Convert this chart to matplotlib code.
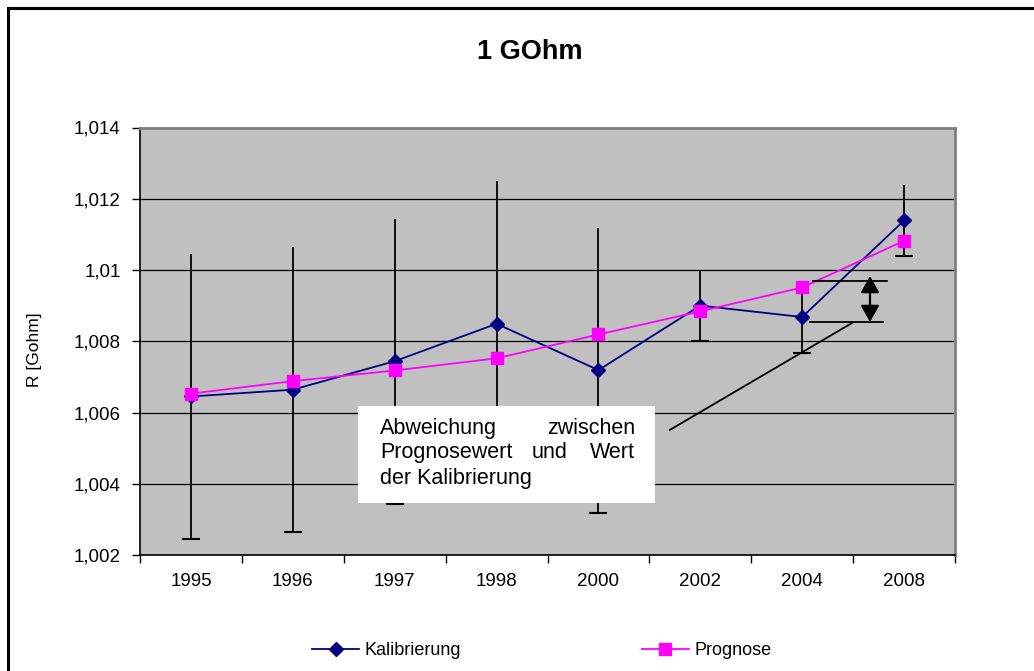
import matplotlib
matplotlib.use("Agg")
import matplotlib.pyplot as plt
from matplotlib.patches import Rectangle
from matplotlib.ticker import FuncFormatter

plt.rcParams['font.family'] = ['Liberation Sans', 'DejaVu Sans']

# data
years = ["1995", "1996", "1997", "1998", "2000", "2002", "2004", "2008"]
kalibrierung = [1.00645, 1.00664, 1.00744, 1.00849, 1.00719, 1.00900, 1.00868, 1.01139]
kal_err = [0.004, 0.004, 0.004, 0.004, 0.004, 0.001, 0.001, 0.001]
prognose = [1.00653, 1.00688, 1.00718, 1.00752, 1.00819, 1.00884, 1.00951, 1.01082]

x = list(range(len(years)))

fig = plt.figure(figsize=(10.34, 6.71), dpi=100)
ax = fig.add_axes([140/1034, 1-555/671, 815/1034, 427.5/671])
ax.set_facecolor('#C0C0C0')

ax.set_ylim(1.002, 1.014)
ax.set_yticks([1.002, 1.004, 1.006, 1.008, 1.010, 1.012, 1.014])
ax.yaxis.set_major_formatter(FuncFormatter(lambda v, p: f"{v:.3f}".rstrip('0').replace('.', ',')))
ax.grid(axis='y', color='black', lw=0.9)
ax.set_axisbelow(True)

# category axis, ticks between categories like Excel
ax.set_xlim(-0.5, len(years) - 0.5)
ax.set_xticks([i - 0.5 for i in range(len(years) + 1)])
ax.set_xticklabels([])
ax.set_xticks(x, minor=True)
ax.set_xticklabels(years, minor=True)
ax.tick_params(axis='x', which='minor', length=0, pad=13, labelsize=13.5)
ax.tick_params(axis='x', which='major', length=6, width=1, direction='out')
ax.tick_params(axis='y', length=6, width=1, direction='out', pad=8, labelsize=13.5)

for s in ['top', 'right']:
    ax.spines[s].set_color('#808080')
    ax.spines[s].set_linewidth(2)
for s in ['left', 'bottom']:
    ax.spines[s].set_color('black')
    ax.spines[s].set_linewidth(1.2)

# error bars (caps only at the lower end)
lo = [k - e for k, e in zip(kalibrierung, kal_err)]
hi = [k + e for k, e in zip(kalibrierung, kal_err)]
ax.vlines(x, lo, hi, color='black', lw=1.3, zorder=2)
ax.plot(x, lo, '_', color='black', ms=13, mew=1.5, zorder=2)

ax.plot(x, kalibrierung, color='#000080', lw=1.3, marker='D', ms=7.5,
        label='Kalibrierung', zorder=3)
ax.plot(x, prognose, color='#FF00FF', lw=1.3, marker='s', ms=8.5,
        label='Prognose', zorder=4)

ax.set_ylabel('R [Gohm]', fontsize=12.5)
ax.yaxis.set_label_coords(-0.128 + 0.008, 0.48)
fig.text(0.5126, 0.9225, '1 GOhm', ha='center', va='center', fontsize=19.5, fontweight='bold')

# annotation box
ax.add_patch(Rectangle((0.2675, 0.1216), 0.3645, 0.2269, transform=ax.transAxes,
                       facecolor='white', edgecolor='none', zorder=6))
tk = dict(transform=ax.transAxes, fontsize=15.5, va='center', zorder=7)
ax.text(0.2945, 0.297, 'Abweichung', ha='left', **tk)
ax.text(0.6074, 0.297, 'zwischen', ha='right', **tk)
ax.text(0.2945, 0.2386, 'Prognosewert', ha='left', **tk)
ax.text(0.503, 0.2386, 'und', ha='center', **tk)
ax.text(0.6074, 0.2386, 'Wert', ha='right', **tk)
ax.text(0.2945, 0.180, 'der Kalibrierung', ha='left', **tk)

ax.plot([0.650, 0.8736], [0.2924, 0.5427], color='black', lw=1.3, transform=ax.transAxes, zorder=5)
ax.plot([0.8258, 0.9166], [0.641, 0.641], color='black', lw=1.3, transform=ax.transAxes, zorder=5)
ax.plot([0.822, 0.9117], [0.545, 0.545], color='black', lw=1.3, transform=ax.transAxes, zorder=5)
ax.annotate('', xy=(0.8957, 0.6526), xytext=(0.8957, 0.545),
            xycoords='axes fraction', textcoords='axes fraction',
            arrowprops=dict(arrowstyle='<|-|>,head_width=0.28,head_length=0.5',
                            mutation_scale=20, color='black', lw=1.6,
                            shrinkA=0, shrinkB=0), zorder=5)

fig.legend(loc='center', bbox_to_anchor=(0.524, 0.03), ncol=2, frameon=False,
           fontsize=13, handlelength=2.6, handletextpad=0.3, columnspacing=10)

# outer chart border
fig.add_artist(Rectangle((8/1034, -0.1), 1.2, 1.1 - 7.5/671, transform=fig.transFigure,
                         facecolor='none', edgecolor='black', lw=2.2, clip_on=False))

fig.savefig('out.png', dpi=100)
